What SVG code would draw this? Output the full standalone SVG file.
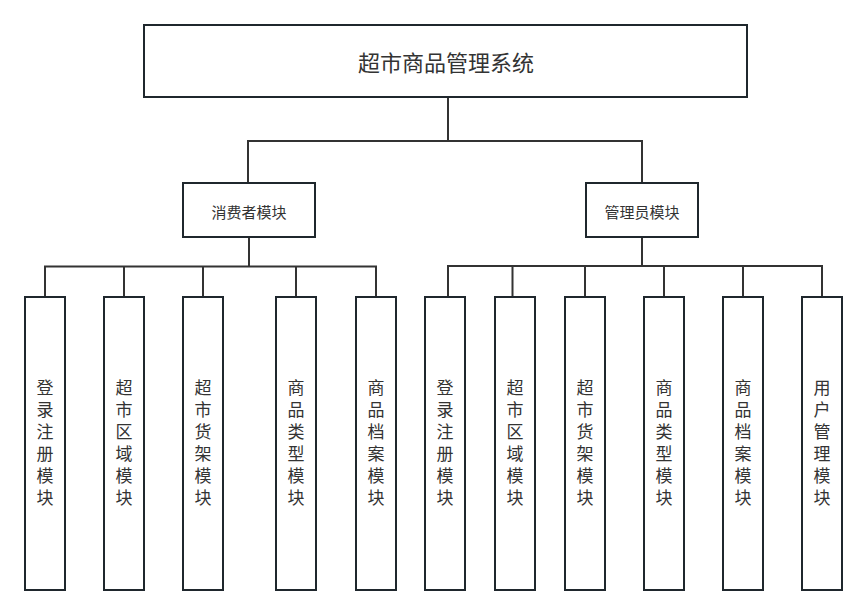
<svg xmlns="http://www.w3.org/2000/svg" width="867" height="614" viewBox="0 0 867 614">
<style>
.box{fill:#fff;stroke:#1f272d;stroke-width:2}
.con{fill:none;stroke:#333;stroke-width:2}
text{font-family:"Noto Sans CJK SC","Noto Sans",sans-serif;fill:#333;text-anchor:middle;dominant-baseline:central}
.t{font-size:22px}
.m{font-size:15px}
.v{font-size:17px}
</style>
<rect width="867" height="614" fill="#fff"/>
<g id="connectors">
<path class="con" d="M448 97V141M248 183V141H642V183"/>
<path class="con" d="M249 237V266.5" stroke-width="3"/>
<path class="con" d="M45 297V266.5H376V297M124 266.5V297M203 266.5V297M296 266.5V297"/>
<path class="con" d="M642 237V266"/>
<path class="con" d="M448 297V266H822V297M512.5 266V297M585 266V297M664 266V297M743 266V297"/>
</g>
<g id="root"><rect class="box" x="144" y="25" width="603" height="72"/><text class="t" x="446" y="61">超市商品管理系统</text></g>
<g id="consumer"><rect class="box" x="183" y="183" width="132" height="54"/><text class="m" x="249" y="211">消费者模块</text></g>
<g id="admin"><rect class="box" x="586" y="183" width="112" height="54"/><text class="m" x="642" y="211">管理员模块</text></g>
<g id="c1"><rect class="box" x="25" y="297" width="40" height="293"/><text class="v" x="45"><tspan x="45" y="386">登</tspan><tspan x="45" y="408">录</tspan><tspan x="45" y="430">注</tspan><tspan x="45" y="452">册</tspan><tspan x="45" y="474">模</tspan><tspan x="45" y="496">块</tspan></text></g>
<g id="c2"><rect class="box" x="104" y="297" width="40" height="293"/><text class="v"><tspan x="124" y="386">超</tspan><tspan x="124" y="408">市</tspan><tspan x="124" y="430">区</tspan><tspan x="124" y="452">域</tspan><tspan x="124" y="474">模</tspan><tspan x="124" y="496">块</tspan></text></g>
<g id="c3"><rect class="box" x="183" y="297" width="40" height="293"/><text class="v"><tspan x="203" y="386">超</tspan><tspan x="203" y="408">市</tspan><tspan x="203" y="430">货</tspan><tspan x="203" y="452">架</tspan><tspan x="203" y="474">模</tspan><tspan x="203" y="496">块</tspan></text></g>
<g id="c4"><rect class="box" x="276" y="297" width="40" height="293"/><text class="v"><tspan x="296" y="386">商</tspan><tspan x="296" y="408">品</tspan><tspan x="296" y="430">类</tspan><tspan x="296" y="452">型</tspan><tspan x="296" y="474">模</tspan><tspan x="296" y="496">块</tspan></text></g>
<g id="c5"><rect class="box" x="356" y="297" width="40" height="293"/><text class="v"><tspan x="376" y="386">商</tspan><tspan x="376" y="408">品</tspan><tspan x="376" y="430">档</tspan><tspan x="376" y="452">案</tspan><tspan x="376" y="474">模</tspan><tspan x="376" y="496">块</tspan></text></g>
<g id="a1"><rect class="box" x="425" y="297" width="40" height="293"/><text class="v"><tspan x="445" y="386">登</tspan><tspan x="445" y="408">录</tspan><tspan x="445" y="430">注</tspan><tspan x="445" y="452">册</tspan><tspan x="445" y="474">模</tspan><tspan x="445" y="496">块</tspan></text></g>
<g id="a2"><rect class="box" x="495" y="297" width="40" height="293"/><text class="v"><tspan x="515" y="386">超</tspan><tspan x="515" y="408">市</tspan><tspan x="515" y="430">区</tspan><tspan x="515" y="452">域</tspan><tspan x="515" y="474">模</tspan><tspan x="515" y="496">块</tspan></text></g>
<g id="a3"><rect class="box" x="565" y="297" width="40" height="293"/><text class="v"><tspan x="585" y="386">超</tspan><tspan x="585" y="408">市</tspan><tspan x="585" y="430">货</tspan><tspan x="585" y="452">架</tspan><tspan x="585" y="474">模</tspan><tspan x="585" y="496">块</tspan></text></g>
<g id="a4"><rect class="box" x="644" y="297" width="40" height="293"/><text class="v"><tspan x="664" y="386">商</tspan><tspan x="664" y="408">品</tspan><tspan x="664" y="430">类</tspan><tspan x="664" y="452">型</tspan><tspan x="664" y="474">模</tspan><tspan x="664" y="496">块</tspan></text></g>
<g id="a5"><rect class="box" x="723" y="297" width="40" height="293"/><text class="v"><tspan x="743" y="386">商</tspan><tspan x="743" y="408">品</tspan><tspan x="743" y="430">档</tspan><tspan x="743" y="452">案</tspan><tspan x="743" y="474">模</tspan><tspan x="743" y="496">块</tspan></text></g>
<g id="a6"><rect class="box" x="802" y="297" width="40" height="293"/><text class="v"><tspan x="822" y="386">用</tspan><tspan x="822" y="408">户</tspan><tspan x="822" y="430">管</tspan><tspan x="822" y="452">理</tspan><tspan x="822" y="474">模</tspan><tspan x="822" y="496">块</tspan></text></g>
</svg>
